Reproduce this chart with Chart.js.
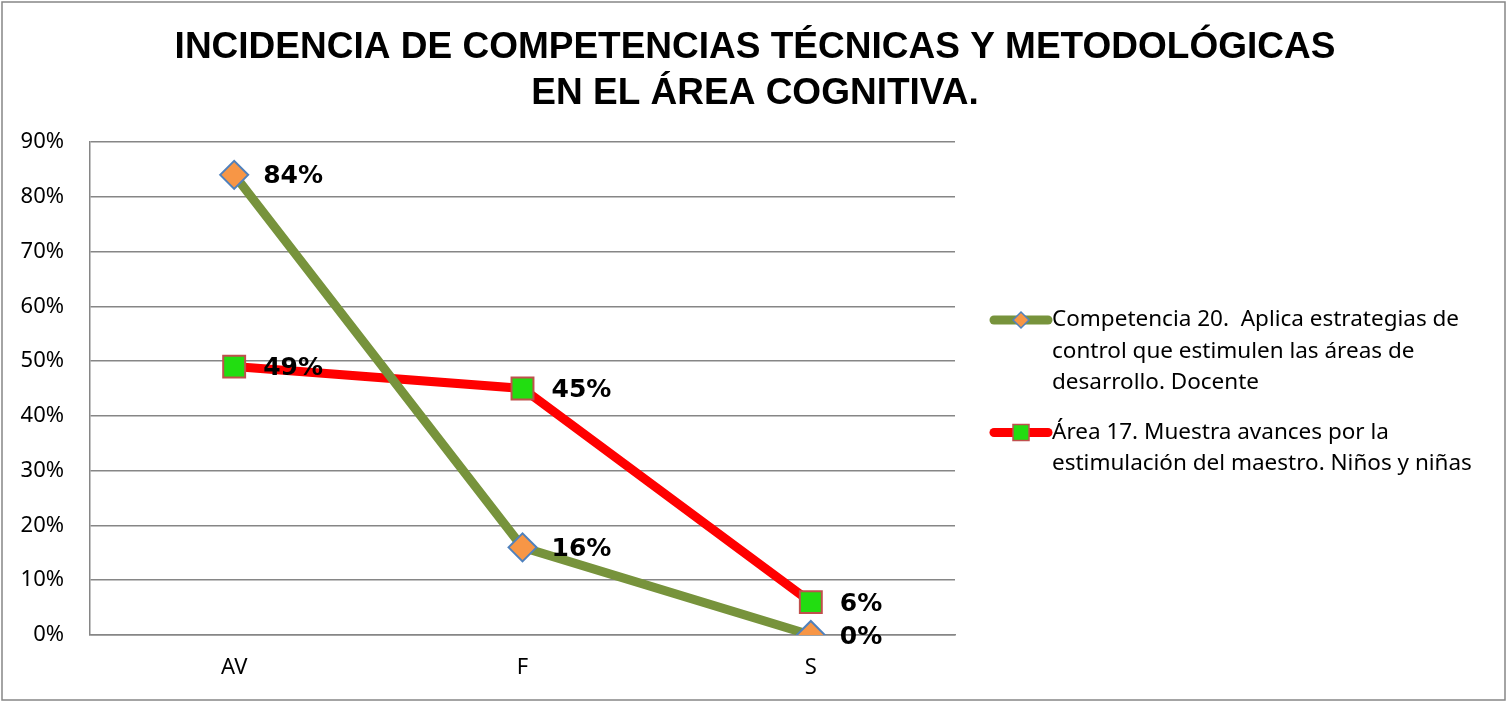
<!DOCTYPE html>
<html>
<head>
<meta charset="utf-8">
<script src="https://cdn.jsdelivr.net/npm/chart.js@4/dist/chart.umd.min.js"></script>
<style>
  html, body { margin: 0; padding: 0; background: #fff; }
  #wrap { width: 1507px; height: 703px; position: relative; }
</style>
</head>
<body>
<div id="wrap"><canvas id="lineChart"></canvas></div>
<script>
// data
const categories = ['AV', 'F', 'S'];
const competencia = [84, 16, 0];
const area = [49, 45, 6];
const yTicks = [0, 10, 20, 30, 40, 50, 60, 70, 80, 90];

const titleLines = ['INCIDENCIA DE COMPETENCIAS TÉCNICAS Y METODOLÓGICAS', 'EN EL ÁREA COGNITIVA.'];
const legendLines = [
    ['Competencia 20.  Aplica estrategias de', 'control que estimulen las áreas de', 'desarrollo. Docente'],
    ['Área 17. Muestra avances por la', 'estimulación del maestro. Niños y niñas']
];

const labelFont = '"Noto Sans", "Open Sans", sans-serif';

// title, frame, value labels and the wrapped legend
const decorations = {
    id: 'decorations',
    afterDraw(chart) {
        const ctx = chart.ctx;
        ctx.save();

        // outer frame
        ctx.strokeStyle = '#868686';
        ctx.lineWidth = 1.5;
        ctx.strokeRect(2, 2, 1503, 698);

        // title
        ctx.fillStyle = '#000';
        ctx.font = 'bold 37px "Liberation Sans", Arial, sans-serif';
        ctx.textAlign = 'center';
        ctx.textBaseline = 'middle';
        ctx.fillText(titleLines[0], 755, 48);
        ctx.fillText(titleLines[1], 755, 94);

        // value labels
        ctx.font = 'bold 25px "DejaVu Sans", sans-serif';
        ctx.textAlign = 'left';
        chart.data.datasets.forEach((ds, i) => {
            const meta = chart.getDatasetMeta(i);
            meta.data.forEach((pt, j) => {
                ctx.fillText(ds.data[j] + '%', pt.x + 29, pt.y + 2);
            });
        });

        // legend
        ctx.font = '22.5px ' + labelFont;
        let y = 320;
        chart.data.datasets.forEach((ds, i) => {
            ctx.strokeStyle = ds.borderColor;
            ctx.lineWidth = 9;
            ctx.lineCap = 'round';
            ctx.beginPath();
            ctx.moveTo(994, y);
            ctx.lineTo(1048, y);
            ctx.stroke();
            ctx.lineCap = 'butt';
            ctx.fillStyle = ds.pointBackgroundColor;
            ctx.strokeStyle = ds.pointBorderColor;
            ctx.lineWidth = 1.5;
            ctx.beginPath();
            if (ds.pointStyle === 'rectRot') {
                ctx.moveTo(1021, y - 8);
                ctx.lineTo(1029, y);
                ctx.lineTo(1021, y + 8);
                ctx.lineTo(1013, y);
                ctx.closePath();
            } else {
                ctx.rect(1013, y - 8, 16, 16);
            }
            ctx.fill();
            ctx.stroke();
            ctx.fillStyle = '#000';
            legendLines[i].forEach((line, k) => {
                ctx.fillText(line, 1052, y + k * 31.5);
            });
            y += legendLines[i].length * 31.5 + 18;
        });

        ctx.restore();
    }
};

new Chart(document.getElementById('lineChart'), {
    type: 'line',
    data: {
        labels: categories,
        datasets: [
            {
                label: legendLines[0].join(' '),
                data: competencia,
                borderColor: '#77933C',
                borderWidth: 9,
                pointStyle: 'rectRot',
                pointRadius: 14,
                pointHoverRadius: 14,
                pointBackgroundColor: '#F79646',
                pointBorderColor: '#4F81BD',
                pointBorderWidth: 2,
                tension: 0
            },
            {
                label: legendLines[1].join(' '),
                data: area,
                borderColor: '#FF0000',
                borderWidth: 9,
                pointStyle: 'rect',
                pointRadius: 15.5,
                pointHoverRadius: 15.5,
                pointBackgroundColor: '#22DD11',
                pointBorderColor: '#C0504D',
                pointBorderWidth: 2,
                tension: 0
            }
        ]
    },
    options: {
        responsive: true,
        maintainAspectRatio: false,
        animation: false,
        layout: { padding: { top: 142, left: 2, right: 552, bottom: 0 } },
        plugins: {
            legend: { display: false },
            title: { display: false },
            tooltip: { enabled: false }
        },
        scales: {
            x: {
                offset: true,
                grid: { display: false, drawTicks: false },
                border: { color: '#868686', width: 1.5 },
                ticks: { color: '#000', font: { size: 22, family: labelFont }, padding: 20 },
                afterFit: s => { s.height = 68; }
            },
            y: {
                min: 0,
                max: 90,
                afterBuildTicks: s => { s.ticks = yTicks.map(v => ({ value: v })); },
                grid: { color: '#868686', lineWidth: 1.5, drawTicks: false },
                border: { color: '#868686', width: 1.5 },
                ticks: {
                    color: '#000',
                    font: { size: 22, family: labelFont },
                    padding: 26,
                    callback: v => v + '%'
                },
                afterFit: s => { s.width = 88; }
            }
        }
    },
    plugins: [decorations]
});
</script>
</body>
</html>
